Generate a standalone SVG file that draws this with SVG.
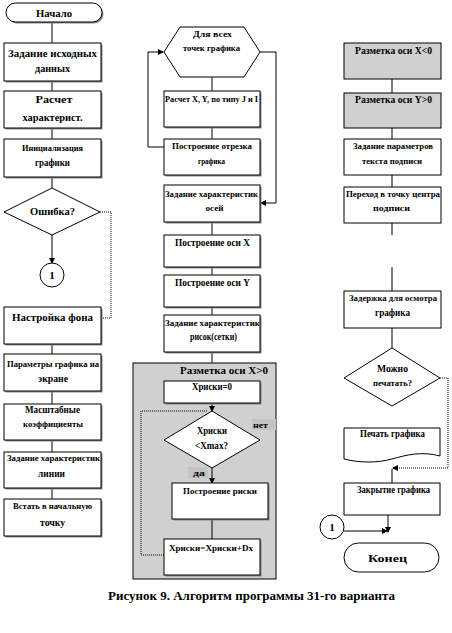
<svg xmlns="http://www.w3.org/2000/svg" width="452" height="633" viewBox="0 0 452 633">
<defs>
<marker id="ar" markerWidth="6" markerHeight="6" refX="5" refY="3" orient="auto" markerUnits="userSpaceOnUse">
<path d="M0,0 L6,3 L0,6 Z" fill="#000"/>
</marker>
<style>
.b{fill:#fff;stroke:#000;stroke-width:1}
.g{fill:#d0d0d0;stroke:#000;stroke-width:1}
.sh{fill:#888;stroke:none}
.t{font-family:"Liberation Serif","Times New Roman",serif;font-weight:bold;font-size:10px;fill:#000;text-anchor:middle}
.s{font-size:9px}
.m{font-size:11px}
.c{fill:none;stroke:#000;stroke-width:1}
.d{fill:none;stroke:#000;stroke-width:1;stroke-dasharray:1,1}
.lbl{fill:#c4c4c4;stroke:none}
</style>
</defs>
<rect width="452" height="633" fill="#fff"/>

<g id="xpos">
<rect class="g" x="133" y="363" width="143" height="216"/>
<text class="t" x="224" y="374" textLength="88" lengthAdjust="spacingAndGlyphs">Разметка оси X&gt;0</text>
</g>

<g id="connectors">
<path class="c" d="M52,22V43 M52,81V91 M52,128V139 M52,177V188 M52,344V354 M52,391V404 M52,440V452 M52,488V499"/>
<path class="c" d="M52,235V263" marker-end="url(#ar)"/>
<path class="d" d="M100,212H111V318H101"/>
<path class="c" d="M212,77V91 M212,127V139 M212,222V235 M212,267V275 M212,307V315 M212,352V363"/>
<path class="c" d="M164,147H148V52H163" marker-end="url(#ar)"/>
<path class="c" d="M260,52H276V203H261" marker-end="url(#ar)"/>
<path class="c" d="M212,403V411" marker-end="url(#ar)"/>
<path class="c" d="M212,468V483" marker-end="url(#ar)"/>
<path class="c" d="M212,519V539"/>
<path class="d" d="M164,555H141V411H208"/>
<path class="c" d="M392,79V93 M392,128V139 M392,175V187 M392,223V235 M392,267V291 M392,328V348 M392,469V483"/>
<path class="d" d="M440,378H448V468H393" marker-end="url(#ar)"/>
<path class="c" d="M388,515V532" marker-end="url(#ar)"/>
<path class="c" d="M344,531H387" marker-end="url(#ar)"/>
</g>

<g id="start">
<rect class="sh" x="7.5" y="4.5" width="96" height="19" rx="9.5"/>
<rect class="b" x="6" y="3" width="96" height="19" rx="9.5"/>
<text class="t m" x="54" y="17" textLength="36" lengthAdjust="spacingAndGlyphs">Начало</text>
</g>
<g id="input">
<rect class="sh" x="5.5" y="44.5" width="97" height="38"/>
<rect class="b" x="4" y="43" width="97" height="38"/>
<text class="t" x="52.5" y="57" textLength="89" lengthAdjust="spacingAndGlyphs">Задание исходных</text>
<text class="t" x="52.5" y="72" textLength="35" lengthAdjust="spacingAndGlyphs">данных</text>
</g>
<g id="calc">
<rect class="sh" x="5.5" y="92.5" width="97" height="37"/>
<rect class="b" x="4" y="91" width="97" height="37"/>
<text class="t m" x="54" y="103" textLength="37" lengthAdjust="spacingAndGlyphs">Расчет</text>
<text class="t" x="52.5" y="121" textLength="60" lengthAdjust="spacingAndGlyphs">характерист.</text>
</g>
<g id="init">
<rect class="sh" x="5.5" y="140.5" width="97" height="38"/>
<rect class="b" x="4" y="139" width="97" height="38"/>
<text class="t s" x="52.5" y="151" textLength="61" lengthAdjust="spacingAndGlyphs">Инициализация</text>
<text class="t" x="52.5" y="166" textLength="35" lengthAdjust="spacingAndGlyphs">графики</text>
</g>
<g id="err">
<polygon class="b" points="52,188 100,212 52,235 4,212"/>
<text class="t m" x="52.5" y="215" textLength="45" lengthAdjust="spacingAndGlyphs">Ошибка?</text>
</g>
<g id="conn1">
<circle class="b" cx="52" cy="275" r="12"/>
<text class="t m" x="52" y="279">1</text>
</g>
<g id="bg">
<rect class="sh" x="5.5" y="308.5" width="97" height="37"/>
<rect class="b" x="4" y="307" width="97" height="37"/>
<text class="t m" x="52.5" y="321" textLength="81" lengthAdjust="spacingAndGlyphs">Настройка  фона</text>
</g>
<g id="params">
<rect class="sh" x="5.5" y="355.5" width="97" height="37"/>
<rect class="b" x="4" y="354" width="97" height="37"/>
<text class="t s" x="53" y="367" textLength="92" lengthAdjust="spacingAndGlyphs">Параметры графика на</text>
<text class="t" x="53" y="382" textLength="30" lengthAdjust="spacingAndGlyphs">экране</text>
</g>
<g id="scale">
<rect class="sh" x="5.5" y="405.5" width="97" height="36"/>
<rect class="b" x="4" y="404" width="97" height="36"/>
<text class="t" x="52.5" y="413" textLength="55" lengthAdjust="spacingAndGlyphs">Масштабные</text>
<text class="t s" x="53" y="427" textLength="60" lengthAdjust="spacingAndGlyphs">коэффициенты</text>
</g>
<g id="line">
<rect class="sh" x="5.5" y="453.5" width="97" height="36"/>
<rect class="b" x="4" y="452" width="97" height="36"/>
<text class="t s" x="53.5" y="461" textLength="93" lengthAdjust="spacingAndGlyphs">Задание характеристик</text>
<text class="t" x="51.5" y="477" textLength="27" lengthAdjust="spacingAndGlyphs">линии</text>
</g>
<g id="home">
<rect class="sh" x="5.5" y="500.5" width="97" height="37"/>
<rect class="b" x="4" y="499" width="97" height="37"/>
<text class="t s" x="52.5" y="509" textLength="79" lengthAdjust="spacingAndGlyphs">Встать в начальную</text>
<text class="t" x="52.5" y="526" textLength="25" lengthAdjust="spacingAndGlyphs">точку</text>
</g>

<g id="loop">
<polygon class="b" points="164,52 180,27 244,27 260,52 244,77 180,77"/>
<text class="t s" x="212.5" y="37" textLength="39" lengthAdjust="spacingAndGlyphs">Для всех</text>
<text class="t s" x="211.5" y="51" textLength="57" lengthAdjust="spacingAndGlyphs">точек графика</text>
</g>
<g id="calcxy">
<rect class="sh" x="165.5" y="92.5" width="96" height="36"/>
<rect class="b" x="164" y="91" width="96" height="36"/>
<text class="t s" x="211.5" y="102" textLength="93" lengthAdjust="spacingAndGlyphs">Расчет X, Y, по типу J и I</text>
</g>
<g id="seg">
<rect class="sh" x="165.5" y="140.5" width="96" height="36"/>
<rect class="b" x="164" y="139" width="96" height="36"/>
<text class="t s" x="212" y="149" textLength="80" lengthAdjust="spacingAndGlyphs">Построение отрезка</text>
<text class="t s" x="211.5" y="164" textLength="27" lengthAdjust="spacingAndGlyphs">графика</text>
</g>
<g id="axes">
<rect class="sh" x="165.5" y="186.5" width="96" height="37"/>
<rect class="b" x="164" y="185" width="96" height="37"/>
<text class="t s" x="211.5" y="197" textLength="93" lengthAdjust="spacingAndGlyphs">Задание характеристик</text>
<text class="t s" x="214.5" y="211" textLength="18" lengthAdjust="spacingAndGlyphs">осей</text>
</g>
<g id="axisx">
<rect class="sh" x="165.5" y="236.5" width="96" height="32"/>
<rect class="b" x="164" y="235" width="96" height="32"/>
<text class="t" x="212.5" y="246" textLength="75" lengthAdjust="spacingAndGlyphs">Построение оси X</text>
</g>
<g id="axisy">
<rect class="sh" x="165.5" y="276.5" width="96" height="32"/>
<rect class="b" x="164" y="275" width="96" height="32"/>
<text class="t" x="212.5" y="286" textLength="75" lengthAdjust="spacingAndGlyphs">Построение оси Y</text>
</g>
<g id="ticks">
<rect class="sh" x="165.5" y="316.5" width="96" height="37"/>
<rect class="b" x="164" y="315" width="96" height="37"/>
<text class="t s" x="212.5" y="326" textLength="95" lengthAdjust="spacingAndGlyphs">Задание характеристик</text>
<text class="t" x="213.5" y="340" textLength="47" lengthAdjust="spacingAndGlyphs">рисок(сетки)</text>
</g>
<g id="x0">
<rect class="sh" x="165.5" y="382.5" width="96" height="22"/>
<rect class="b" x="164" y="381" width="96" height="22"/>
<text class="t" x="212" y="390" textLength="40" lengthAdjust="spacingAndGlyphs">Xриски=0</text>
</g>
<g id="cmp">
<polygon class="b" points="212,411 260,440 212,468 164,440"/>
<text class="t" x="212" y="434" textLength="30" lengthAdjust="spacingAndGlyphs">Xриски</text>
<text class="t" x="211.5" y="449" textLength="33" lengthAdjust="spacingAndGlyphs">&lt;Xmax?</text>
</g>
<g id="lblno">
<rect class="lbl" x="252" y="419" width="24" height="11"/>
<text class="t s" x="260.5" y="428" textLength="15" lengthAdjust="spacingAndGlyphs">нет</text>
</g>
<g id="lblyes">
<rect class="lbl" x="188" y="467" width="20" height="11"/>
<text class="t s" x="199" y="476" textLength="12" lengthAdjust="spacingAndGlyphs">да</text>
</g>
<g id="tick">
<rect class="sh" x="173.5" y="484.5" width="96" height="36"/>
<rect class="b" x="172" y="483" width="96" height="36"/>
<text class="t s" x="220" y="494" textLength="74" lengthAdjust="spacingAndGlyphs">Построение риски</text>
</g>
<g id="inc">
<rect class="sh" x="165.5" y="540.5" width="96" height="36"/>
<rect class="b" x="164" y="539" width="96" height="36"/>
<text class="t s" x="211" y="551" textLength="84" lengthAdjust="spacingAndGlyphs">Xриски=Xриски+Dx</text>
</g>

<g id="xneg">
<rect class="g" x="344" y="43" width="97" height="36"/>
<text class="t" x="393.5" y="54" textLength="77" lengthAdjust="spacingAndGlyphs">Разметка оси X&lt;0</text>
</g>
<g id="ypos">
<rect class="g" x="344" y="93" width="97" height="35"/>
<text class="t" x="393.5" y="103" textLength="77" lengthAdjust="spacingAndGlyphs">Разметка оси Y&gt;0</text>
</g>
<g id="txt">
<rect class="b" x="344" y="139" width="97" height="36"/>
<text class="t s" x="393" y="149" textLength="80" lengthAdjust="spacingAndGlyphs">Задание параметров</text>
<text class="t s" x="392" y="164" textLength="60" lengthAdjust="spacingAndGlyphs">текста подписи</text>
</g>
<g id="move">
<rect class="b" x="344" y="187" width="97" height="36"/>
<text class="t s" x="393" y="197" textLength="94" lengthAdjust="spacingAndGlyphs">Переход в точку центра</text>
<text class="t s" x="391.5" y="211" textLength="37" lengthAdjust="spacingAndGlyphs">подписи</text>
</g>
<g id="delay">
<rect class="b" x="344" y="291" width="97" height="37"/>
<text class="t s" x="393" y="301" textLength="88" lengthAdjust="spacingAndGlyphs">Задержка для осмотра</text>
<text class="t" x="392.5" y="316" textLength="35" lengthAdjust="spacingAndGlyphs">графика</text>
</g>
<g id="canprint">
<polygon class="b" points="392,348 440,378 392,406 344,378"/>
<text class="t" x="392.5" y="372" textLength="31" lengthAdjust="spacingAndGlyphs">Можно</text>
<text class="t s" x="392.5" y="386" textLength="39" lengthAdjust="spacingAndGlyphs">печатать?</text>
</g>
<g id="print">
<path class="b" d="M344,428H440V456C422,451 406,455 392,459C377,463 360,463 344,459Z"/>
<text class="t" x="392.5" y="437" textLength="65" lengthAdjust="spacingAndGlyphs">Печать графика</text>
</g>
<g id="close">
<rect class="b" x="344" y="483" width="96" height="32"/>
<text class="t" x="393.5" y="493" textLength="73" lengthAdjust="spacingAndGlyphs">Закрытие графика</text>
</g>
<g id="conn1b">
<circle class="b" cx="332" cy="527" r="12"/>
<text class="t m" x="332" y="531">1</text>
</g>
<g id="end">
<rect class="b" x="344" y="543" width="95" height="29" rx="14.5"/>
<text class="t m" x="387.5" y="562" textLength="39" lengthAdjust="spacingAndGlyphs">Конец</text>
</g>

<text id="caption" class="t" x="251.5" y="600" style="font-size:12px" textLength="287" lengthAdjust="spacingAndGlyphs">Рисунок  9.  Алгоритм  программы  31-го  варианта</text>
</svg>
